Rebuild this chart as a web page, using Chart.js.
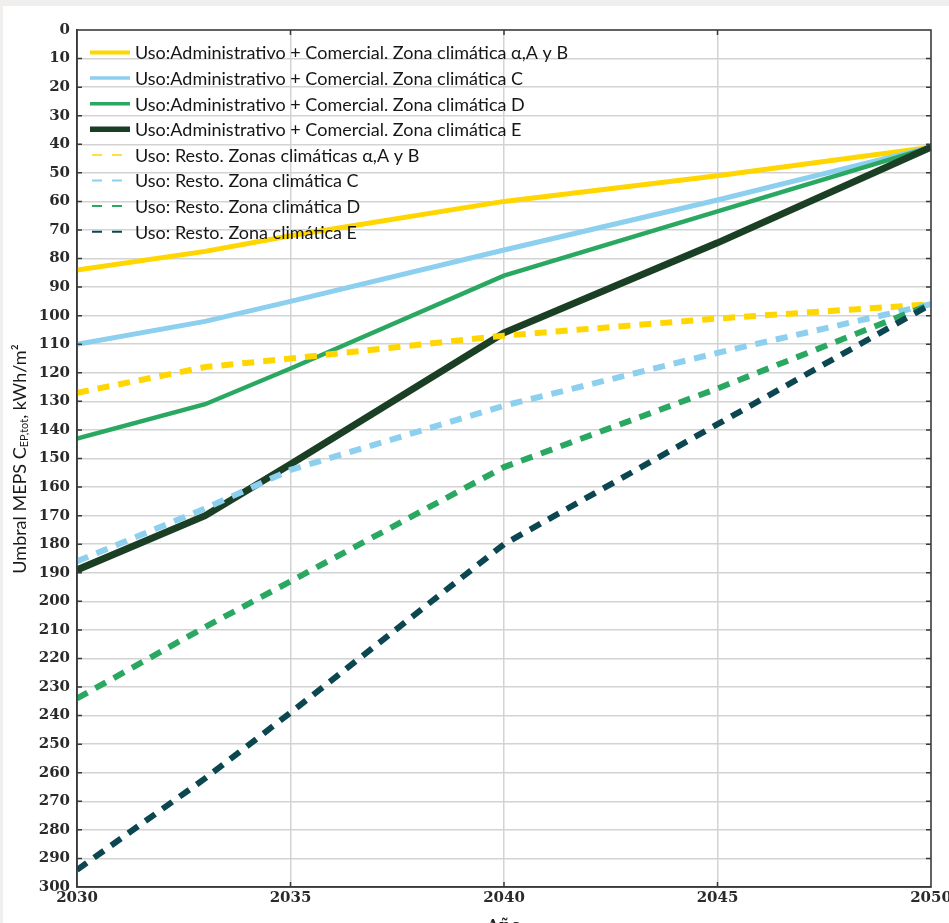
<!DOCTYPE html>
<html>
<head>
<meta charset="utf-8">
<script src="https://cdn.jsdelivr.net/npm/chart.js@4.4.0/dist/chart.umd.min.js"></script>
<style>
  html, body { margin: 0; padding: 0; background: #f0efed; overflow: hidden; width: 949px; height: 923px; }
  #wrap { position: absolute; left: 3px; top: 6px; width: 980px; height: 940px; background: #ffffff; }
  #chart { display: block; }
</style>
</head>
<body>
<div id="wrap"><canvas id="chart" width="953" height="934"></canvas></div>
<script>
// years
const years = [2030, 2033, 2035, 2040, 2045, 2050];

// Uso: Administrativo + Comercial
const adminAB = [84, 77.5, 72, 60, 51, 41];
const adminC = [110, 102, 95, 77, 59.5, 41];
const adminD = [143, 131, 118.5, 86, 63.5, 41];
const adminE = [189, 170, 152, 106, 74.5, 41];

// Uso: Resto
const restoAB = [127, 118, 115, 107, 101, 96];
const restoC = [186, 167.5, 154, 131.5, 113, 96];
const restoD = [234, 209, 193, 153, 125.5, 96];
const restoE = [294, 262, 239, 180, 138, 96];

const labels = [
    'Uso:Administrativo + Comercial. Zona climática α,A y B',
    'Uso:Administrativo + Comercial. Zona climática C',
    'Uso:Administrativo + Comercial. Zona climática D',
    'Uso:Administrativo + Comercial. Zona climática E',
    'Uso: Resto. Zonas climáticas α,A y B',
    'Uso: Resto. Zona climática C',
    'Uso: Resto. Zona climática D',
    'Uso: Resto. Zona climática E'
];

const yTicks = { min: 0, max: 300, step: 10 };
const xTicks = { min: 2030, max: 2050, step: 5 };

const colors = ['#ffd600', '#8ccfee', '#2aa862', '#1b3f24', '#ffd600', '#8ccfee', '#2aa862', '#0b4651'];

function pts(vals) {
    return vals.map((v, i) => ({ x: years[i], y: v }));
}

const seriesList = [adminAB, adminC, adminD, adminE, restoAB, restoC, restoD, restoE];
const widths = [5, 5, 4.5, 7, 6, 6, 6, 6];
const legendWidths = [4, 3.5, 3.5, 5.5, 1.5, 2, 2, 2];

const datasets = seriesList.map((s, i) => ({
    label: labels[i],
    data: pts(s),
    borderColor: colors[i],
    borderWidth: widths[i],
    borderDash: i >= 4 ? [12, 9] : [],
    borderCapStyle: 'butt',
    pointRadius: 0,
    tension: 0,
    fill: false,
    order: 8 - i
}));

const serif = '"DejaVu Serif", serif';
const sans = 'Lato, "Open Sans", sans-serif';

// legend, inner ticks, box and axis titles
const extras = {
    id: 'extras',
    afterDraw(chart) {
        const ctx = chart.ctx;
        const a = chart.chartArea;
        const xs = chart.scales.x, ys = chart.scales.y;
        ctx.save();

        // box
        ctx.strokeStyle = '#3a3a3a';
        ctx.lineWidth = 1.5;
        ctx.strokeRect(a.left, a.top, a.right - a.left, a.bottom - a.top);

        // inward ticks
        ctx.beginPath();
        for (let v = yTicks.min + yTicks.step; v < yTicks.max; v += yTicks.step) {
            const y = ys.getPixelForValue(v);
            ctx.moveTo(a.left, y); ctx.lineTo(a.left + 5, y);
            ctx.moveTo(a.right, y); ctx.lineTo(a.right - 5, y);
        }
        for (let v = xTicks.min + xTicks.step; v < xTicks.max; v += xTicks.step) {
            const x = xs.getPixelForValue(v);
            ctx.moveTo(x, a.bottom); ctx.lineTo(x, a.bottom - 5);
            ctx.moveTo(x, a.top); ctx.lineTo(x, a.top + 5);
        }
        ctx.stroke();

        // x title (cut by the window)
        ctx.fillStyle = '#222';
        ctx.font = 'bold 16px ' + serif;
        ctx.textAlign = 'center';
        ctx.textBaseline = 'alphabetic';
        ctx.fillText('Año', (a.left + a.right) / 2, 925);

        // y title with subscript
        ctx.translate(17, 453);
        ctx.rotate(-Math.PI / 2);
        ctx.textBaseline = 'middle';
        ctx.textAlign = 'left';
        ctx.fillStyle = '#1a1a1a';
        const p1 = 'Umbral MEPS C', p2 = 'EP,tot', p3 = ', kWh/m²';
        ctx.font = '18px ' + sans;
        const w1 = ctx.measureText(p1).width, w3 = ctx.measureText(p3).width;
        ctx.font = '11px ' + sans;
        const w2 = ctx.measureText(p2).width;
        let x0 = -(w1 + w2 + w3) / 2;
        ctx.font = '18px ' + sans;
        ctx.fillText(p1, x0, 0);
        ctx.font = '11px ' + sans;
        ctx.fillText(p2, x0 + w1, 4);
        ctx.font = '18px ' + sans;
        ctx.fillText(p3, x0 + w1 + w2, 0);
        ctx.restore();
    },
    afterDatasetsDraw(chart) {
        const ctx = chart.ctx;
        ctx.save();
        ctx.font = '18px ' + sans;
        ctx.fillStyle = '#161616';
        ctx.textBaseline = 'middle';
        chart.data.datasets.forEach((ds, i) => {
            const y = 46.5 + i * 25.6;
            ctx.strokeStyle = ds.borderColor;
            ctx.lineWidth = legendWidths[i];
            ctx.lineCap = 'butt';
            ctx.beginPath();
            if (i < 4) {
                ctx.moveTo(87, y); ctx.lineTo(127, y);
            } else {
                ctx.moveTo(89, y); ctx.lineTo(99, y);
                ctx.moveTo(109, y); ctx.lineTo(119, y);
            }
            ctx.stroke();
            ctx.fillText(ds.label, 132, y + 1);
        });
        ctx.restore();
    }
};

new Chart(document.getElementById('chart'), {
    type: 'line',
    data: { datasets: datasets },
    options: {
        responsive: false,
        animation: false,
        devicePixelRatio: 1,
        layout: { padding: { left: 0, right: 25, top: 24, bottom: 0 } },
        plugins: {
            legend: { display: false },
            tooltip: { enabled: false }
        },
        scales: {
            x: {
                type: 'linear',
                min: xTicks.min,
                max: xTicks.max,
                afterFit: s => { s.height = 53; },
                ticks: {
                    stepSize: xTicks.step,
                    callback: v => String(v),
                    font: { family: serif, size: 15, weight: 'bold' },
                    color: '#2a2a2a',
                    padding: 2,
                    maxRotation: 0
                },
                grid: { color: '#d3d3d3', lineWidth: 1.5, drawTicks: false },
                border: { display: true, color: '#3a3a3a', width: 1.5 }
            },
            y: {
                reverse: true,
                min: yTicks.min,
                max: yTicks.max,
                afterFit: s => { s.width = 74; },
                ticks: {
                    stepSize: yTicks.step,
                    autoSkip: false,
                    font: { family: serif, size: 15, weight: 'bold' },
                    color: '#2a2a2a',
                    padding: 7
                },
                grid: { color: '#d3d3d3', lineWidth: 1.5, drawTicks: false },
                border: { display: true, color: '#3a3a3a', width: 1.5 }
            }
        }
    },
    plugins: [extras]
});
</script>
</body>
</html>
